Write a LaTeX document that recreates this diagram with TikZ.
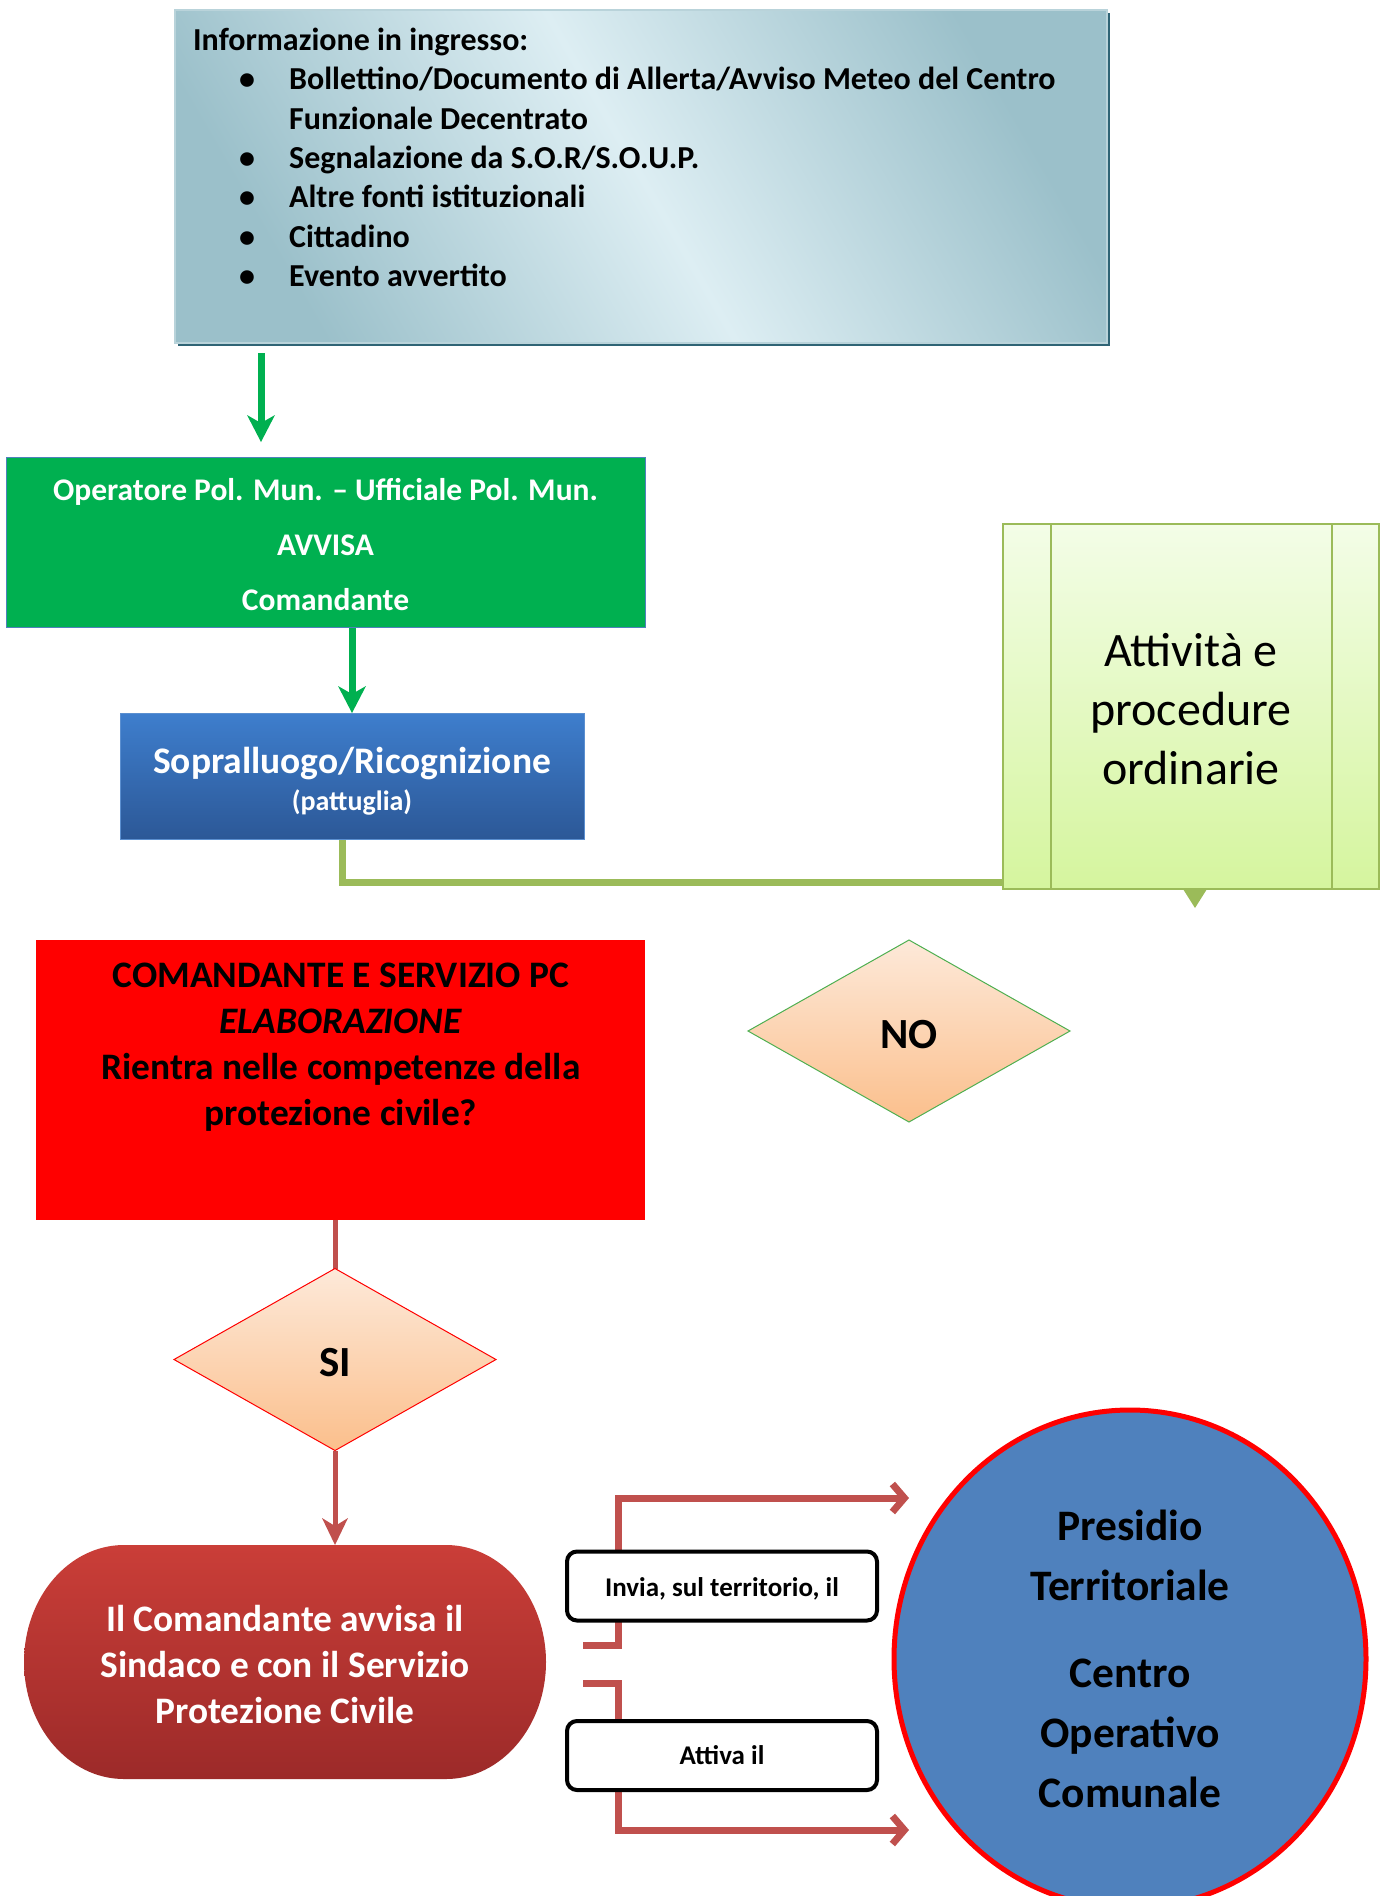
\documentclass[tikz,border=0pt]{standalone}
\usepackage{fontspec}
\setmainfont{Carlito}
\usetikzlibrary{shapes.geometric,arrows.meta,backgrounds}
\definecolor{infoA}{HTML}{9BC0CA}
\definecolor{infoB}{HTML}{DDEEF3}
\definecolor{infoBorder}{HTML}{B9D3DA}
\definecolor{infoShadow}{HTML}{2F6475}
\definecolor{pmgreen}{HTML}{00B050}
\definecolor{gBorder}{HTML}{4F81BD}
\definecolor{sopT}{HTML}{3E7ECD}
\definecolor{sopB}{HTML}{2C5897}
\definecolor{sopBorder}{HTML}{5B8FD0}
\definecolor{attT}{HTML}{F3FDE7}
\definecolor{attB}{HTML}{D5F59E}
\definecolor{oliveC}{HTML}{9BBB59}
\definecolor{diaT}{HTML}{FDE9D9}
\definecolor{diaB}{HTML}{FBBF8C}
\definecolor{noBorder}{HTML}{4EAF50}
\definecolor{pillT}{HTML}{CA3E38}
\definecolor{pillB}{HTML}{9C2A29}
\definecolor{conred}{HTML}{C0504D}
\definecolor{cocBlue}{HTML}{4F81BD}
\begin{document}
\begin{tikzpicture}[x=1pt,y=-1pt,
  shapebox/.style={rectangle,inner sep=0pt,outer sep=0pt,align=center},
  txt/.style={inner sep=0pt,align=center},
  garrow/.style={draw=pmgreen,line width=7pt,-{Stealth[length=27pt,width=28pt,inset=8pt,line width=0pt]}},
  rline/.style={draw=conred,line width=5pt},
  rarrow/.style={rline,-{Stealth[length=27pt,width=26pt,inset=8pt,line width=0pt]}},
  bracket/.style={draw=conred,line width=7pt,-{Straight Barb[length=12pt,width=28pt]}},
  olivel/.style={draw=oliveC,line width=7pt},
  decision/.style={diamond,inner sep=0pt,outer sep=0pt,minimum width=322pt,minimum height=182pt,top color=diaT,bottom color=diaB,line width=1pt,
     font=\fontsize{43}{50}\selectfont\bfseries,text height=34pt,text depth=0pt},
  smallbox/.style={shapebox,draw=black,line width=4pt,fill=white,rounded corners=10pt,minimum width=310pt,minimum height=69pt,font=\fontsize{27}{32}\selectfont\bfseries}
]
\useasboundingbox (0,0) rectangle (1390,1896);

% ---------- nodes ----------
\node[shapebox,minimum width=932pt,minimum height=333pt,draw=infoBorder,line width=1.5pt,
  left color=infoA,right color=infoA,middle color=infoB,shading angle=120] (info) at (641,176.5) {};
\node[anchor=north west,inner sep=0pt,align=left,font=\fontsize{32}{39.3}\selectfont\bfseries] (infotext) at (193,28)
 {Informazione in ingresso:\\
  \hspace*{46pt}\makebox[50pt][l]{•}Bollettino/Documento di Allerta/Avviso Meteo del Centro\\
  \hspace*{96pt}Funzionale Decentrato\\
  \hspace*{46pt}\makebox[50pt][l]{•}Segnalazione da S.O.R/S.O.U.P.\\
  \hspace*{46pt}\makebox[50pt][l]{•}Altre fonti istituzionali\\
  \hspace*{46pt}\makebox[50pt][l]{•}Cittadino\\
  \hspace*{46pt}\makebox[50pt][l]{•}Evento avvertito};

\node[shapebox,minimum width=639pt,minimum height=170pt,fill=pmgreen,draw=gBorder,line width=1pt] (gbox) at (325.5,542) {};
\node[txt,text=white,font=\fontsize{31.5}{55}\selectfont\bfseries] (gtext) at (325.5,544.5)
 {Operatore Pol. Mun. – Ufficiale Pol. Mun.\\AVVISA\\Comandante};

\node[shapebox,minimum width=464pt,minimum height=126pt,top color=sopT,bottom color=sopB,draw=sopBorder,line width=1pt] (sbox) at (352,776) {};
\node[txt,text=white,font=\bfseries] (stext) at (352,781.5)
 {{\fontsize{37.5}{40}\selectfont Sopralluogo/Ricognizione}\\[9pt]{\fontsize{28}{34}\selectfont (pattuglia)}};

\node[shapebox,minimum width=376pt,minimum height=365pt,top color=attT,bottom color=attB,draw=oliveC,line width=1.2pt] (att) at (1191,706.5) {};
\node[txt,font=\fontsize{48}{59}\selectfont] (atttext) at (1191,709) {Attività e\\procedure\\ordinarie};
\draw[oliveC,line width=1.2pt] ([xshift=48pt]att.north west) -- ([xshift=48pt]att.south west)
  ([xshift=-47pt]att.north east) -- ([xshift=-47pt]att.south east);
\fill[oliveC] ([xshift=-8pt]att.south) -- ([xshift=16pt]att.south) -- ([xshift=4pt,yshift=-19pt]att.south) -- cycle;

\node[decision,draw=noBorder] (no) at (909,1031) {NO};

\node[shapebox,minimum width=609pt,minimum height=280pt,fill=red] (rbox) at (340.5,1080) {};
\node[txt,font=\fontsize{37.4}{46}\selectfont\bfseries] (rtext) at (341,1047)
 {COMANDANTE E SERVIZIO PC\\\textit{ELABORAZIONE}\\Rientra nelle competenze della\\protezione civile?};

\node[decision,draw=red] (si) at (335,1359.5) {SI};

\shade[top color=pillT,bottom color=pillB] (124,1545) -- (446,1545)
  arc[start angle=90,end angle=-90,x radius=100pt,y radius=117pt] -- (124,1779)
  arc[start angle=-90,end angle=-270,x radius=100pt,y radius=117pt] -- cycle;
\node[shapebox,minimum width=522pt,minimum height=234pt] (pill) at (285,1662) {};
\node[txt,text=white,font=\fontsize{37.4}{46}\selectfont\bfseries] (pilltext) at (285,1664.5)
 {Il Comandante avvisa il\\Sindaco e con il Servizio\\Protezione Civile};

\node[smallbox,text height=24pt] (invia) at (722,1586) {Invia, sul territorio, il};
\node[smallbox] (attiva) at (722,1755.5) {Attiva il};

\node[ellipse,inner sep=0pt,minimum width=472pt,minimum height=498pt,fill=cocBlue,draw=red,line width=5pt,
  align=center,font=\fontsize{43.5}{60}\selectfont\bfseries] (coc) at (1130,1659)
 {Presidio\\Territoriale\\[27pt]Centro\\Operativo\\Comunale};

% ---------- coordinates ----------
\coordinate (a1s) at (261,353);
\coordinate (a1e) at (261,442);
\coordinate (olbend) at (342,882);
\coordinate (b1s) at (583,1645);
\coordinate (b1c) at (618,1645);
\coordinate (b1t) at (909,1498);
\coordinate (b2s) at (583,1683);
\coordinate (b2c) at (618,1683);
\coordinate (b2t) at (909,1830);

% ---------- connectors ----------
\begin{scope}[on background layer]
  \fill[infoShadow] ([xshift=3pt,yshift=-3pt]info.south west) rectangle ([xshift=3pt,yshift=-3pt]info.north east);
  \draw[garrow] (a1s) -- (a1e);
  \draw[garrow] (sbox.north |- gbox.south) -- (sbox.north);
  \draw[olivel] (sbox.south -| olbend) -- (olbend) -- (olbend -| att.west);
  \draw[rline] (si.north |- rbox.south) -- (si.north);
  \draw[rarrow] (si.south) -- (si.south |- pill.north);
  \draw[bracket] (b1s) -- (b1c) |- (b1t);
  \draw[bracket] (b2s) -- (b2c) |- (b2t);
\end{scope}
\end{tikzpicture}
\end{document}
